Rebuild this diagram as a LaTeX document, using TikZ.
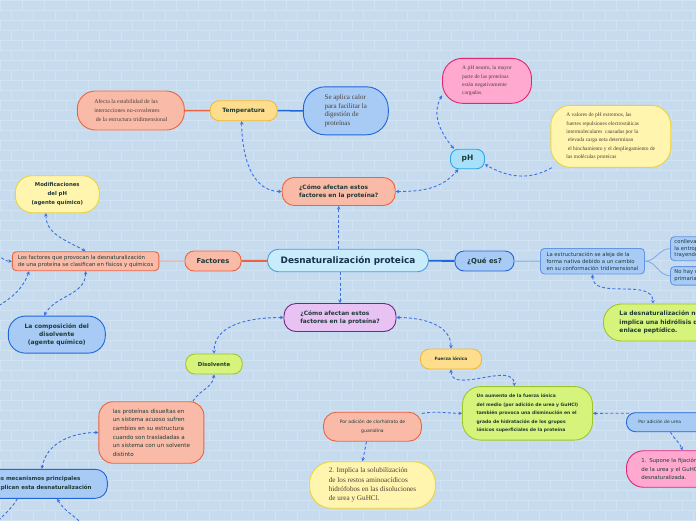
\documentclass[tikz,border=0pt]{standalone}
\usepackage{fontspec}
\setmainfont{DejaVu Sans}
\newfontfamily\serifx{Liberation Serif}
\usetikzlibrary{arrows.meta}
\newcommand\fsz[2]{\fontsize{#1}{#2}\selectfont}
\definecolor{bg}{HTML}{C6DBEE}
\definecolor{brick}{HTML}{D1E2F2}
\definecolor{salF}{HTML}{F9BBA8}
\definecolor{salD}{HTML}{EA6440}
\definecolor{bluF}{HTML}{A8CBF6}
\definecolor{bluD}{HTML}{2166D8}
\definecolor{cyaF}{HTML}{C8ECFB}
\definecolor{cyaD}{HTML}{4AA0DA}
\definecolor{vioF}{HTML}{E9C2F4}
\definecolor{vioD}{HTML}{6E2C7E}
\definecolor{yelF}{HTML}{FEDD8C}
\definecolor{yelD}{HTML}{F2B936}
\definecolor{lyeF}{HTML}{FFF5AE}
\definecolor{lyeD}{HTML}{EBD33C}
\definecolor{pinF}{HTML}{FFA9D0}
\definecolor{pinD}{HTML}{E4246E}
\definecolor{limF}{HTML}{D6F37B}
\definecolor{limD}{HTML}{9EC52A}
\definecolor{phF}{HTML}{A8E0FA}
\definecolor{phD}{HTML}{2DA8E6}
\definecolor{txt}{HTML}{1E3A36}
\definecolor{navy}{HTML}{17304F}
\definecolor{gtxt}{HTML}{4A4038}
\definecolor{dashc}{HTML}{3C6EE4}
\tikzset{
  box/.style={draw, line width=0.9pt, inner sep=0pt, text=txt},
  dconn/.style={draw=dashc, line width=0.9pt, dash pattern=on 3pt off 2.2pt},
  arrE/.style={-{Stealth[length=3.5pt,width=3.5pt]}},
  arrB/.style={{Stealth[length=3.5pt,width=3.5pt]}-{Stealth[length=3.5pt,width=3.5pt]}},
  arrS/.style={{Stealth[length=3.5pt,width=3.5pt]}-},
}
\begin{document}
\begin{tikzpicture}[x=1pt,y=1pt]
\useasboundingbox (0,0) rectangle (696,-520);
\clip (0,0) rectangle (696,-520);
\fill[bg] (0,0) rectangle (696,-520);
\foreach \r in {0,...,52}{\draw[brick, line width=0.6pt] (0,-\r*10) -- (696,-\r*10);}
\foreach \r in {0,...,51}{\foreach \c in {0,...,32}{\draw[brick, line width=0.6pt] ({\c*22+mod(\r,2)*11},-\r*10) -- ++(0,-10);}}

% central and main branches
\node[box, fill=cyaF, draw=cyaD, minimum width=161pt, minimum height=22.5pt, rounded corners=11pt, text=navy, font=\bfseries\fsz{8.9}{10}] (central) at (348,-260.5) {Desnaturalización proteica};
\node[box, fill=bluF, draw=bluD, minimum width=59pt, minimum height=20pt, rounded corners=9pt, font=\bfseries\fsz{6.9}{8}] (que) at (484.5,-261) {¿Qué es?};
\node[box, fill=salF, draw=salD, minimum width=56pt, minimum height=20pt, rounded corners=9pt, font=\bfseries\fsz{6.8}{8}] (factores) at (213,-261) {Factores};
\node[box, fill=salF, draw=salD, minimum width=113pt, minimum height=28pt, rounded corners=12pt, align=left, font=\bfseries\fsz{5.9}{8.5}] (como1) at (338.7,-191.5) {¿Cómo afectan estos\\factores en la proteína?};
\node[box, fill=vioF, draw=vioD, minimum width=112pt, minimum height=28pt, rounded corners=12pt, align=left, font=\bfseries\fsz{5.9}{8.5}] (como2) at (340,-317.5) {¿Cómo afectan estos\\factores en la proteína?};

% temperatura
\node[box, fill=yelF, draw=yelD, minimum width=67pt, minimum height=20pt, rounded corners=9pt, font=\bfseries\fsz{5.9}{7}] (temp) at (243.7,-110.7) {Temperatura};
\node[box, fill=salF, draw=salD, minimum width=107pt, minimum height=39pt, rounded corners=18pt, align=left, text=gtxt, font=\serifx\fsz{5.9}{9}] (afecta) at (130.8,-110.5) {Afecta la estabilidad de las\\interacciones no-covalentes\\\hspace{1.5pt}de la estructura tridimensional};
\node[box, fill=bluF, draw=bluD, minimum width=85pt, minimum height=48pt, rounded corners=22pt, align=left, text=gtxt, font=\serifx\fsz{7}{8.9}] (calor) at (345.8,-110.8) {Se aplica calor\\para facilitar la\\digestión de\\proteínas};

% pH
\node[box, fill=phF, draw=phD, minimum width=34pt, minimum height=19.5pt, rounded corners=8pt, font=\bfseries\fsz{7.5}{8}] (ph) at (467.5,-159) {pH};
\node[box, fill=pinF, draw=pinD, minimum width=89pt, minimum height=45pt, rounded corners=20pt, align=left, text=gtxt, font=\serifx\fsz{5.5}{8.1}] (ph1) at (487,-80.8) {A pH neutro, la mayor\\parte de las proteínas\\están negativamente\\cargadas.};
\node[box, fill=lyeF, draw=lyeD, minimum width=120pt, minimum height=62pt, rounded corners=20pt, align=left, text=gtxt, font=\serifx\fsz{5.4}{8.4}] (ph2) at (610.8,-136.3) {A valores de pH extremos, las\\fuertes repulsiones electrostáticas\\intermoleculares\ \ causadas por la\\\hspace{1.5pt}elevada carga neta determinan\\\hspace{1.5pt}el hinchamiento y el despliegamiento de\\las moléculas proteicas};

% factores
\node[box, fill=salF, draw=salD, minimum width=146.5pt, minimum height=19pt, rounded corners=4pt, align=left, font=\fsz{5.4}{7.6}] (factxt) at (85.6,-261.2) {Los factores que provocan la desnaturalización\\de una proteína se clasifican en físicos y químicos};
\node[box, fill=lyeF, draw=lyeD, minimum width=84pt, minimum height=37pt, rounded corners=17pt, align=center, font=\bfseries\fsz{5.35}{8.7}] (modif) at (57.3,-194.2) {Modificaciones\\del pH\\(agente químico)};
\node[box, fill=bluF, draw=bluD, minimum width=97pt, minimum height=37pt, rounded corners=17pt, align=center, font=\bfseries\fsz{6}{8.3}] (compos) at (56.8,-334.6) {La composición del\\disolvente\\(agente químico)};
\node[box, fill=limF, draw=limD, minimum width=56.5pt, minimum height=20pt, rounded corners=9pt, font=\bfseries\fsz{5.4}{7}] (disolv) at (214,-364) {Disolvente};
\node[box, fill=salF, draw=salD, minimum width=105pt, minimum height=61.5pt, rounded corners=14pt, align=left, font=\fsz{5.6}{8.6}] (prot) at (151.4,-432.5) {las proteínas disueltas en\\un sistema acuoso sufren\\cambios en su estructura\\cuando son trasladadas a\\un sistema con un solvente\\distinto};
\node[box, fill=bluF, draw=bluD, minimum width=143pt, minimum height=29pt, rounded corners=12pt, align=center, font=\bfseries\fsz{5.5}{9}] (mecan) at (35.8,-483.8) {Tres mecanismos principales\\que explican esta desnaturalización};

% fuerza ionica
\node[box, fill=yelF, draw=yelD, minimum width=61pt, minimum height=20pt, rounded corners=9pt, font=\bfseries\fsz{4.4}{6}] (fuerza) at (451,-359) {Fuerza iónica};
\node[box, fill=limF, draw=limD, minimum width=130pt, minimum height=53.5pt, rounded corners=18pt, align=left, font=\bfseries\fsz{4.5}{8.5}] (aumento) at (527.5,-413.3) {Un aumento de la fuerza iónica\\del medio (por adición de urea y GuHCl)\\también provoca una disminución en el\\grado de hidratación de los grupos\\iónicos superficiales de la proteína};
\node[box, fill=salF, draw=salD, minimum width=98pt, minimum height=29pt, rounded corners=13pt, align=center, font=\fsz{4.55}{9}] (clorh) at (372.5,-426.7) {Por adición de clorhidrato de\\guanidina};
\node[box, fill=lyeF, draw=lyeD, minimum width=126pt, minimum height=46.5pt, rounded corners=22pt, align=left, text=gtxt, font=\serifx\fsz{7.2}{9.3}] (impl) at (372.5,-485) {2. Implica la solubilización\\de los restos aminoacídicos\\hidrófobos en las disoluciones\\de urea y GuHCl.};
\node[box, fill=bluF, draw=bluD, anchor=west, text width=56pt, inner xsep=12pt, minimum height=19pt, rounded corners=9pt, align=left, font=\fsz{4.4}{6}] (urea) at (626,-422.2) {Por adición de urea};
\node[box, fill=pinF, draw=pinD, anchor=west, text width=110pt, inner xsep=15pt, minimum height=36.5pt, rounded corners=17pt, align=left, font=\fsz{5.4}{8.7}] (supone) at (626,-469) {1. Supone la fijación preferente\\de la urea y el GuHCl a la proteína\\desnaturalizada.};

% que es
\node[box, fill=bluF, draw=bluD!70, minimum width=104pt, minimum height=25.5pt, rounded corners=4pt, align=left, font=\fsz{5.3}{7.2}] (estruc) at (592.5,-261.2) {La estructuración se aleja de la\\forma nativa debido a un cambio\\en su conformación tridimensional};
\node[box, fill=bluF, draw=bluD!70, anchor=west, text width=100pt, inner xsep=4pt, minimum height=24pt, rounded corners=4pt, align=left, font=\fsz{5.3}{6.7}] (conlleva) at (670,-248.7) {conlleva un aumento de\\la entropía del sistema\\trayendo consigo cambios};
\node[box, fill=bluF, draw=bluD!70, anchor=west, text width=100pt, inner xsep=4pt, minimum height=18.5pt, rounded corners=4pt, align=left, font=\fsz{5.3}{6.7}] (nohay) at (670,-275.8) {No hay cambios en la estructura\\primaria};
\node[box, fill=limF, draw=limD, anchor=west, text width=95pt, inner xsep=16pt, minimum height=37pt, rounded corners=18pt, align=left, font=\bfseries\fsz{6}{8.5}] (lime) at (603,-322.5) {La desnaturalización no\\implica una hidrólisis del\\enlace peptídico.};

% off-picture ends
\coordinate (offA) at (-12,-250);
\coordinate (offB) at (-12,-312);
\coordinate (offC) at (88,-532);
\coordinate (offD) at (-10,-532);

% solid connectors
\draw[salD, line width=1.5pt] (afecta) -- (temp);
\draw[bluD, line width=1.5pt] (temp) -- (calor);
\draw[salD, line width=2pt] (factores) -- (central);
\draw[salD!45!salF, line width=0.8pt] (factxt) -- (factores);
\draw[bluD, line width=1.8pt] (central) -- (que);
\draw[bluD!55, line width=0.9pt] (que) -- (estruc);
\draw[bluD!55, line width=0.9pt] (estruc.east) to[out=0,in=180] (conlleva.west);
\draw[bluD!55, line width=0.9pt] (estruc.east) to[out=0,in=180] (nohay.west);

% dashed connectors
\draw[dconn, arrE] (como1.south |- central.north) -- (como1.south);
\draw[dconn, arrE] (como2.north |- central.south) -- (como2.north);
\draw[dconn, arrB] ([xshift=-2pt]temp.south) to[out=-90,in=180] (como1.west);
\draw[dconn, arrB] (como1.east) to[out=0,in=-130] (ph.-132);
\draw[dconn, arrB] (ph.143) to[out=130,in=-120] (ph1.198);
\draw[dconn, arrE] (ph2.208) to[out=-150,in=-30] (ph.-17);
\draw[dconn, arrB] (modif.-121) to[out=-90,in=150] (factxt.north);
\draw[dconn, arrE] (offA) to[out=-10,in=180] (factxt.west);
\draw[dconn, arrS] (factxt.190) to[out=-110,in=30] (offB);
\draw[dconn, arrB] (factxt.south) to[out=-90,in=60] (compos.124);
\draw[dconn, arrB] (como2.west) to[out=180,in=90] (disolv.north);
\draw[dconn, arrE] (prot.37) to[out=60,in=-95] (disolv.south);
\draw[dconn, arrB] (prot.west) to[out=180,in=80] ([xshift=6pt]mecan.north);
\draw[dconn, arrS] (mecan.-35) to[out=-60,in=120] (offC);
\draw[dconn] (mecan.-141) to[out=-120,in=60] (offD);
\draw[dconn, arrB] (como2.east) to[out=0,in=90] (fuerza.north);
\draw[dconn, arrB] (fuerza.south) to[out=-90,in=90] (aumento.116);
\draw[dconn, arrE] (clorh.15) to[out=10,in=180] (aumento.west);
\draw[dconn, arrE] ([xshift=-6pt]clorh.south) -- ([xshift=-10pt]impl.north);
\draw[dconn, arrE] ([shift={(3pt,-1pt)}]urea.north west) to[out=180,in=0] (aumento.east);
\draw[dconn, arrE] (urea.-68) to[out=-60,in=110] ([xshift=-14pt]supone.north);
\draw[dconn, arrB] (estruc.south) to[out=-90,in=90] ([xshift=-14pt]lime.north);
\end{tikzpicture}
\end{document}
